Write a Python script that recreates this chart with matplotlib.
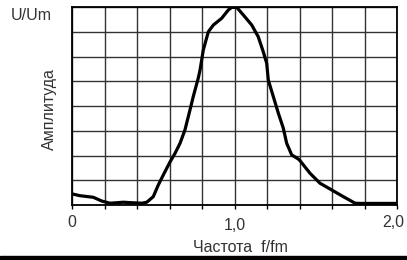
import matplotlib
matplotlib.use('Agg')
import matplotlib.pyplot as plt
import matplotlib.transforms as mtransforms

plt.rcParams['font.family'] = ['Liberation Sans', 'DejaVu Sans']

# normalised frequency f/fm and amplitude U/Um
freq = [0.000, 0.049, 0.131, 0.183, 0.234, 0.316, 0.357, 0.429, 0.460, 0.500,
        0.531, 0.562, 0.603, 0.634, 0.665, 0.695, 0.726, 0.746, 0.777, 0.788,
        0.808, 0.839, 0.870, 0.921, 0.962, 0.983, 1.014, 1.054, 1.106, 1.146,
        1.177, 1.198, 1.208, 1.239, 1.270, 1.300, 1.321, 1.352, 1.393, 1.403,
        1.465, 1.526, 1.598, 1.670, 1.742, 1.772, 2.000]
ampl = [0.056, 0.047, 0.039, 0.020, 0.009, 0.014, 0.012, 0.009, 0.014, 0.042,
        0.101, 0.152, 0.217, 0.261, 0.312, 0.379, 0.480, 0.547, 0.641, 0.682,
        0.783, 0.875, 0.909, 0.943, 0.985, 0.998, 0.998, 0.960, 0.909, 0.850,
        0.774, 0.716, 0.631, 0.547, 0.463, 0.389, 0.312, 0.253, 0.232, 0.224,
        0.160, 0.110, 0.076, 0.042, 0.009, 0.008, 0.008]

x_grid = [0.2 * i for i in range(11)]
y_grid = [0.125 * i for i in range(9)]
x_labels = {0: '0', 5: '1,0', 10: '2,0'}

W, H = 407, 260
fig = plt.figure(figsize=(W / 100, H / 100), dpi=100)
ax = fig.add_axes([72 / W, (H - 205) / H, 325 / W, 198 / H])

for xv in x_grid:
    ax.axvline(xv, color='#333333', lw=1.0, zorder=1)
for yv in y_grid:
    ax.axhline(yv, color='#333333', lw=1.0, zorder=1)

ax.plot(freq, ampl, color='black', lw=2.3, zorder=3, solid_joinstyle='round')

ax.set_xlim(0, 2)
ax.set_ylim(0, 1)
ax.set_xticks([])
ax.tick_params(axis='x', length=0)
# short tick marks under the frame
ax.set_xticks(x_grid, minor=True)
ax.tick_params(axis='x', which='minor', length=3, width=1, colors='black')
ax.set_yticks([])
for s in ax.spines.values():
    s.set_linewidth(1.3)
    s.set_color('black')

shift = {0: (0, 0), 5: (0, -3), 10: (-4, 0)}
for i, lab in x_labels.items():
    dx, dy = shift[i]
    tr = ax.get_xaxis_transform() + mtransforms.ScaledTranslation(
        dx / 100, dy / 100, fig.dpi_scale_trans)
    ax.text(x_grid[i], -0.05, lab, transform=tr, ha='center', va='top',
            fontsize=11.5, color='#333333')

fig.text(11 / W, 1 - 16 / H, 'U/Um', fontsize=11.5, va='center', ha='left',
         color='#333333')
fig.text(49 / W, 1 - 109 / H, 'Амплитуда', fontsize=11.5, rotation=90,
         va='center', ha='center', color='#333333')
fig.text(240 / W, 1 - 248 / H, 'Частота  f/fm', fontsize=11.5,
         va='center', ha='center', color='#333333')

# black strip along the bottom edge
fig.add_artist(plt.Rectangle((0, 0), 1, 4 / H, transform=fig.transFigure,
                             color='black'))

fig.savefig('out.png', dpi=100)
